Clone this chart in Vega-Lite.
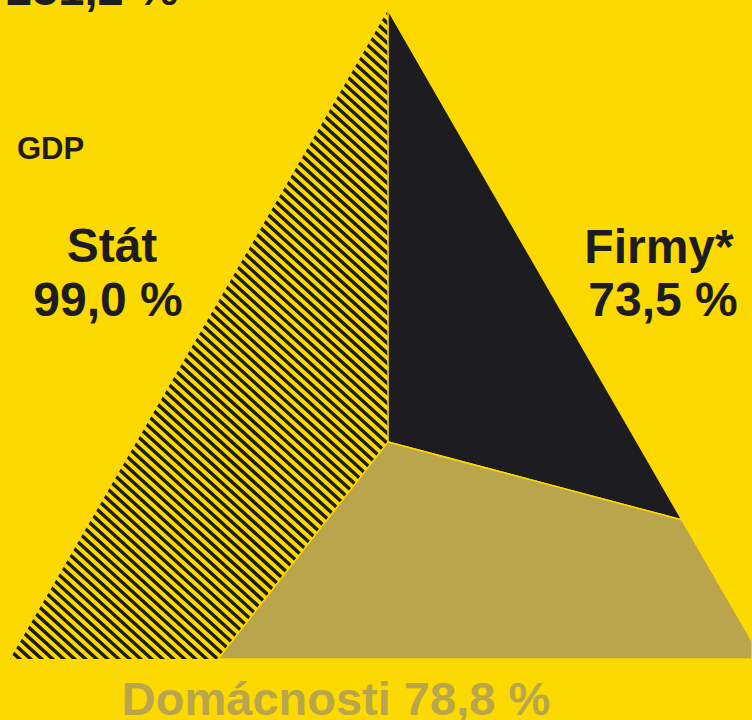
{
  "$schema": "https://vega.github.io/schema/vega-lite/v6.json",
  "width": 752,
  "height": 720,
  "padding": 0,
  "autosize": {"type": "none"},
  "background": "#FCD900",
  "config": {"view": {"stroke": null}, "text": {"font": "Liberation Sans"}},
  "projection": {"type": "identity", "scale": 1, "translate": [0, 0]},
  "layer": [
    {
      "data": {"values": [
        {"type": "Feature", "properties": {"part": "Stát hatching"}, "geometry": {"type": "LineString", "coordinates": [[3.27, 666.4], [521.5, 96.9]]}}
      ]},
      "mark": {"type": "geoshape", "filled": false, "fill": null, "stroke": "#1D1D21", "strokeWidth": 1000, "strokeDash": [3.4, 4.0], "strokeCap": "butt"}
    },
    {
      "data": {"values": [
        {"type": "Feature", "properties": {"part": "outside"}, "geometry": {"type": "Polygon", "coordinates": [
          [[-200, -200], [1000, -200], [1000, 1000], [-200, 1000], [-200, -200]],
          [[388, 10], [10, 659], [218, 659], [388, 442], [388, 10]]
        ]}}
      ]},
      "mark": {"type": "geoshape", "fill": "#FCD900", "stroke": null}
    },
    {
      "data": {"values": [
        {"type": "Feature", "properties": {"part": "Firmy"}, "geometry": {"type": "Polygon", "coordinates": [[[388, 10], [682, 520], [388, 442], [388, 10]]]}}
      ]},
      "mark": {"type": "geoshape", "fill": "#1D1D21", "stroke": "#FCD900", "strokeWidth": 1.5}
    },
    {
      "data": {"values": [
        {"type": "Feature", "properties": {"part": "Domácnosti"}, "geometry": {"type": "Polygon", "coordinates": [[[388, 442], [682, 520], [752, 641], [752, 659], [218, 659], [388, 442]]]}}
      ]},
      "mark": {"type": "geoshape", "fill": "#BAA54C", "stroke": "#FCD900", "strokeWidth": 1.5}
    },
    {
      "data": {"values": [
        {"label": "Stát", "x": 112, "y": 262},
        {"label": "99,0 %", "x": 108, "y": 316},
        {"label": "Firmy*", "x": 659, "y": 263},
        {"label": "73,5 %", "x": 663, "y": 316}
      ]},
      "mark": {"type": "text", "fontSize": 48, "fontWeight": "bold", "align": "center", "baseline": "alphabetic", "color": "#1D1D21"},
      "encoding": {
        "longitude": {"field": "x", "type": "quantitative"},
        "latitude": {"field": "y", "type": "quantitative"},
        "text": {"field": "label"}
      }
    },
    {
      "data": {"values": [{"label": "251,2 %", "x": 6, "y": 5}]},
      "mark": {"type": "text", "fontSize": 47, "fontWeight": "bold", "align": "left", "baseline": "alphabetic", "color": "#1D1D21"},
      "encoding": {
        "longitude": {"field": "x", "type": "quantitative"},
        "latitude": {"field": "y", "type": "quantitative"},
        "text": {"field": "label"}
      }
    },
    {
      "data": {"values": [{"label": "GDP", "x": 17, "y": 159}]},
      "mark": {"type": "text", "fontSize": 31, "fontWeight": "bold", "align": "left", "baseline": "alphabetic", "color": "#1D1D21"},
      "encoding": {
        "longitude": {"field": "x", "type": "quantitative"},
        "latitude": {"field": "y", "type": "quantitative"},
        "text": {"field": "label"}
      }
    },
    {
      "data": {"values": [{"label": "Domácnosti 78,8 %", "x": 336, "y": 715}]},
      "mark": {"type": "text", "fontSize": 47, "fontWeight": "bold", "align": "center", "baseline": "alphabetic", "color": "#B9A54C"},
      "encoding": {
        "longitude": {"field": "x", "type": "quantitative"},
        "latitude": {"field": "y", "type": "quantitative"},
        "text": {"field": "label"}
      }
    }
  ]
}
